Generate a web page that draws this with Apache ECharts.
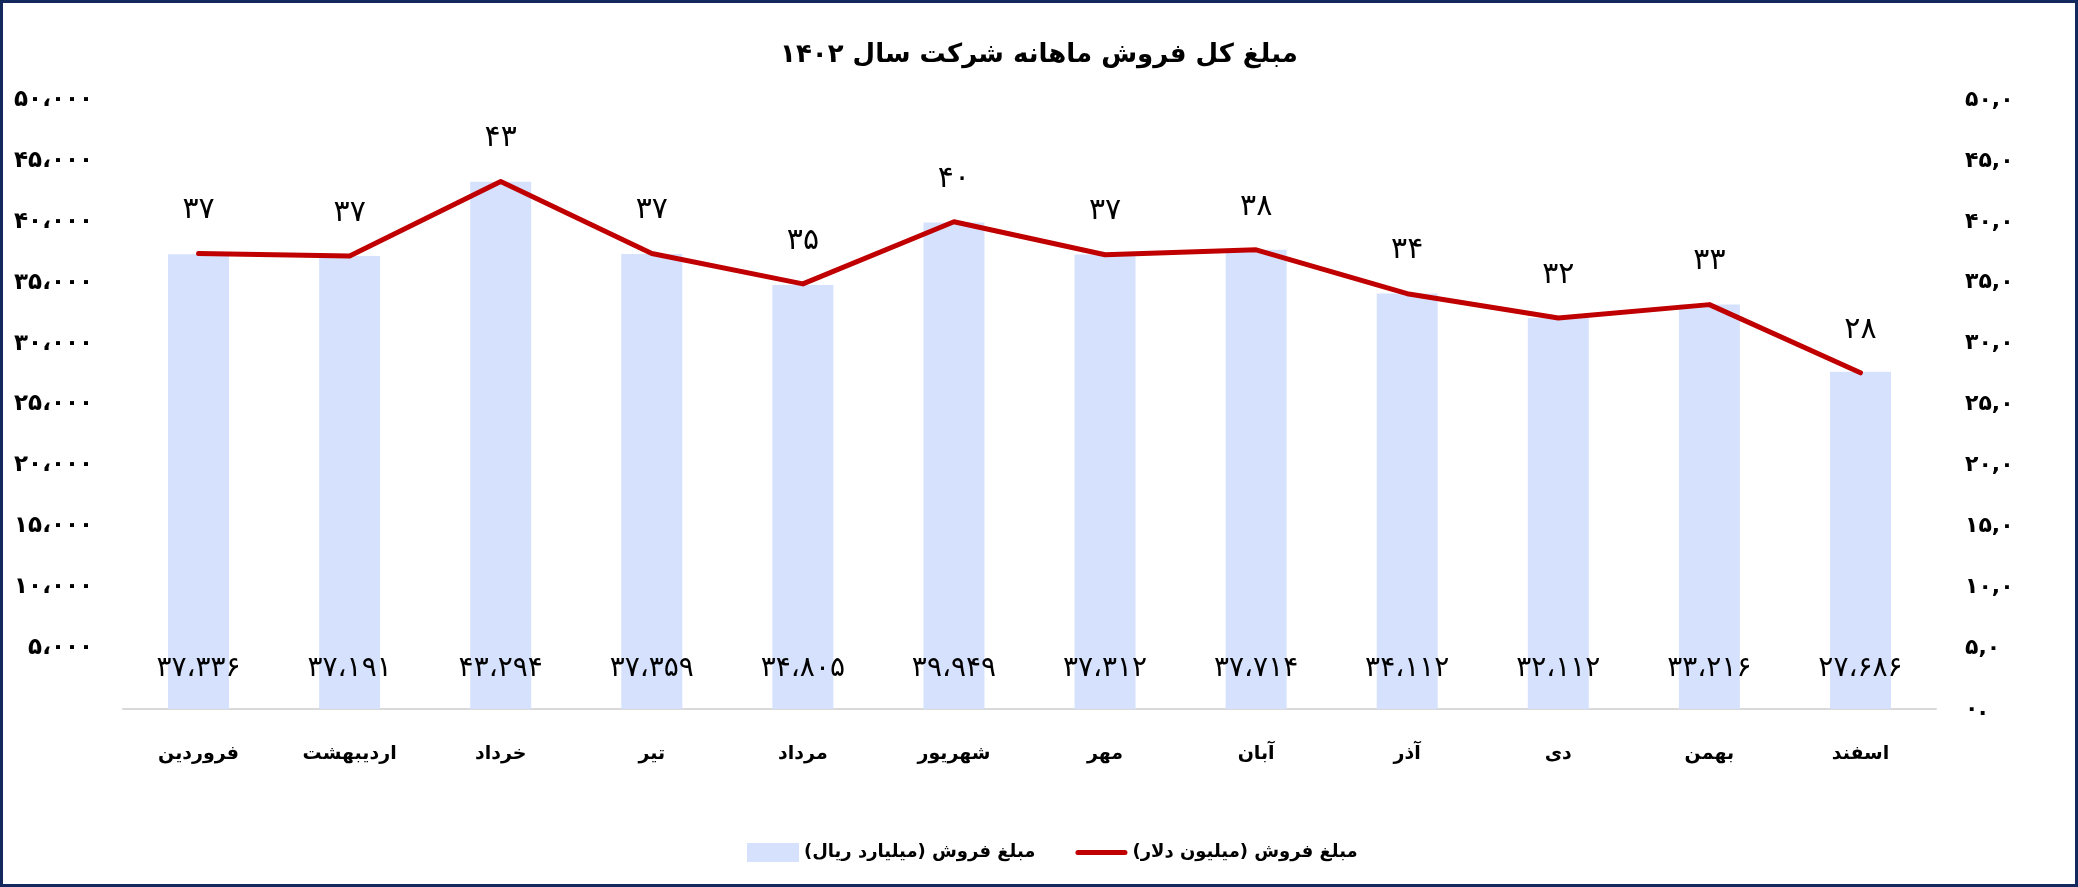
<!DOCTYPE html>
<html>
<head>
<meta charset="utf-8">
<script src="https://cdn.jsdelivr.net/npm/echarts@6/dist/echarts.min.js"></script>
<style>
html,body{margin:0;padding:0;background:#fff;}
#c{width:2078px;height:887px;}
</style>
</head>
<body>
<div id="c"></div>
<script>
const titleText = 'مبلغ کل فروش ماهانه شرکت سال ۱۴۰۲';
const months = ['فروردین','اردیبهشت','خرداد','تیر','مرداد','شهریور','مهر','آبان','آذر','دی','بهمن','اسفند'];
const rialBillion = [37336, 37191, 43294, 37359, 34805, 39949, 37312, 37714, 34112, 32112, 33216, 27686];
const usdMillion = [37.4, 37.2, 43.3, 37.4, 34.9, 40.0, 37.3, 37.7, 34.1, 32.1, 33.2, 27.6];
const barName = 'مبلغ فروش (میلیارد ریال)';
const lineName = 'مبلغ فروش (میلیون دلار)';

const FONT = '"DejaVu Sans", sans-serif';
function fa(s){ return String(s).replace(/[0-9]/g, d => '۰۱۲۳۴۵۶۷۸۹'[d]); }
function thousands(v){ return fa(String(Math.round(v)).replace(/\B(?=(\d{3})+(?!\d))/g, '،')); }

const chart = echarts.init(document.getElementById('c'), null, {renderer:'canvas'});
chart.setOption({
  backgroundColor:'#ffffff',
  animation:false,
  title:{
    text:titleText, left:'center', top:37,
    textStyle:{fontFamily:FONT, fontSize:26, fontWeight:'bold', color:'#000'}
  },
  legend:{
    left:742, top:838, itemWidth:52, itemHeight:19, itemGap:40,
    data:[
      {name:barName, icon:'rect'},
      {name:lineName, icon:'path://M2.5,0 L49.5,0 A2.5,2.5 0 0 1 49.5,5 L2.5,5 A2.5,2.5 0 0 1 2.5,0 Z'}
    ],
    textStyle:{fontFamily:FONT, fontSize:18, fontWeight:'bold', color:'#000'}
  },
  grid:{left:123, right:142, top:100, bottom:178},
  xAxis:{
    type:'category', data:months,
    axisTick:{show:false},
    axisLine:{lineStyle:{color:'#d9d9d9', width:2}},
    axisLabel:{margin:36, fontFamily:FONT, fontSize:19, fontWeight:'bold', color:'#000'}
  },
  yAxis:[
    {type:'value', min:0, max:50000, interval:5000,
     splitLine:{show:false}, axisLine:{show:false}, axisTick:{show:false},
     axisLabel:{margin:30, fontFamily:FONT, fontSize:23, fontWeight:'bold', color:'#000',
       formatter:v => v === 0 ? '' : thousands(v)}},
    {type:'value', min:0, max:50, interval:5,
     splitLine:{show:false}, axisLine:{show:false}, axisTick:{show:false},
     axisLabel:{margin:29, fontFamily:FONT, fontSize:22, fontWeight:'bold', color:'#000',
       formatter:v => v === 0 ? '۰.' : fa(v.toFixed(1)).replace('.', ',')}}
  ],
  series:[
    {name:barName, type:'bar', data:rialBillion, yAxisIndex:0, barWidth:61,
     itemStyle:{color:'#D5E1FD'},
     label:{show:true, position:'insideBottom', distance:26, fontFamily:FONT, fontSize:28, color:'#000',
       formatter:p => thousands(p.value)}},
    {name:lineName, type:'line', data:usdMillion, yAxisIndex:1,
     symbol:'circle', symbolSize:0.1, showSymbol:true,
     lineStyle:{color:'#C00000', width:5, cap:'round', join:'round'},
     itemStyle:{color:'#C00000'},
     label:{show:true, position:'top', distance:28, fontFamily:FONT, fontSize:30, color:'#000',
       formatter:p => fa(Math.round(p.value))}}
  ],
  graphic:[
    {type:'rect', shape:{x:1.5, y:1.5, width:2075, height:884}, silent:true, z:100,
     style:{fill:null, stroke:'#13285c', lineWidth:3}}
  ]
});
</script>
</body>
</html>
